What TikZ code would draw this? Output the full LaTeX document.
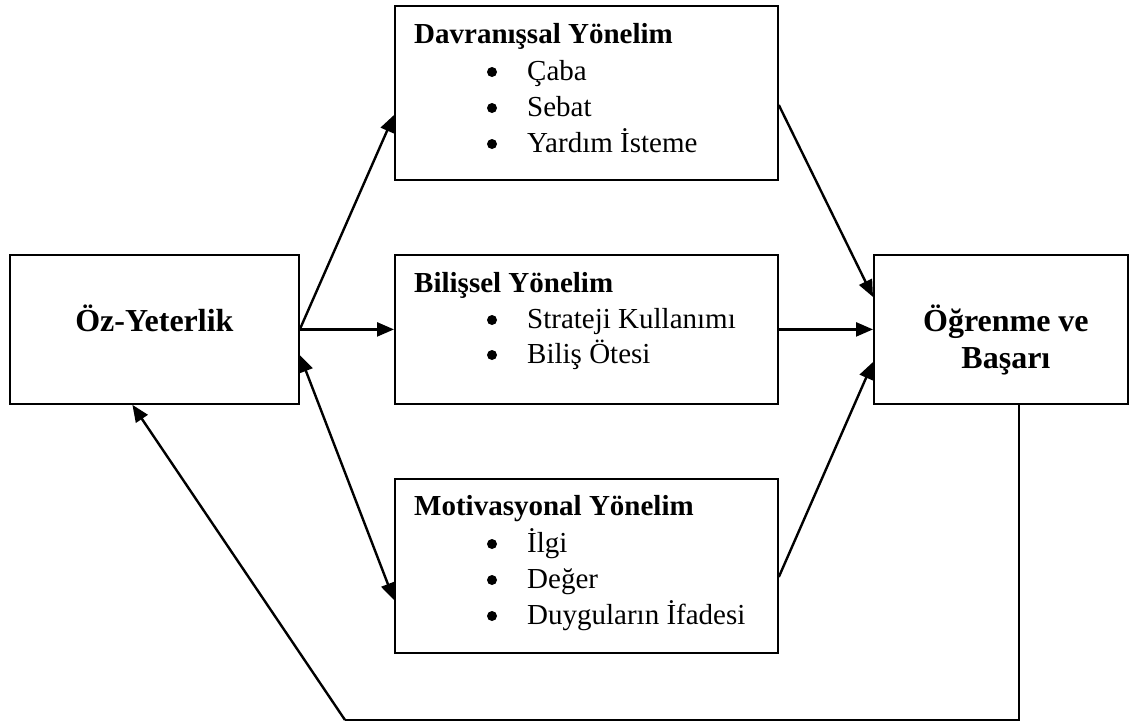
\documentclass[tikz,border=0pt]{standalone}
\usepackage{fontspec}
\setmainfont{Liberation Serif}
\usetikzlibrary{arrows.meta,calc}
\begin{document}
\begin{tikzpicture}[x=1pt,y=-1pt,
  box/.style={draw, line width=1.8pt, rectangle, inner sep=0pt, anchor=north west},
  conn/.style={line width=2.4pt, -{Triangle[length=17pt,width=14pt]}},
  dconn/.style={line width=2.4pt, {Triangle[length=17pt,width=14pt]}-{Triangle[length=17pt,width=14pt]}},
  fline/.style={line width=2.4pt, line join=miter},
  titletext/.style={font=\fontsize{29}{34}\selectfont\bfseries, anchor=base west, inner sep=0pt},
  itemtext/.style={font=\fontsize{29}{34}\selectfont, anchor=base west, inner sep=0pt},
  bigtext/.style={font=\fontsize{32}{38}\selectfont\bfseries, anchor=base, inner sep=0pt},
  bul/.style={circle, fill=black, inner sep=0pt, minimum size=10pt}
]
\useasboundingbox (0,0) rectangle (1134,726);

% boxes
\node[box, minimum width=289pt, minimum height=149pt] (oz) at (9,254) {};
\node[box, minimum width=383pt, minimum height=174pt] (dav) at (394,5) {};
\node[box, minimum width=383pt, minimum height=149pt] (bil) at (394,254) {};
\node[box, minimum width=383pt, minimum height=174pt] (mot) at (394,478) {};
\node[box, minimum width=254pt, minimum height=149pt] (og) at (873,254) {};

% box texts
\node[bigtext] (ozT) at ($(oz.north)+(0,77)$) {Öz-Yeterlik};
\node[bigtext] (ogT1) at ($(og.north)+(5,77)$) {Öğrenme ve};
\node[bigtext] (ogT2) at ($(og.north)+(5,114)$) {Başarı};

\node[titletext] (davT) at ($(dav.north west)+(20,38)$) {Davranışsal Yönelim};
\node[bul] (davB1) at ($(dav.north west)+(98,67)$) {};
\node[itemtext] (davI1) at ($(dav.north west)+(133,75)$) {Çaba};
\node[bul] (davB2) at ($(dav.north west)+(98,103)$) {};
\node[itemtext] (davI2) at ($(dav.north west)+(133,111)$) {Sebat};
\node[bul] (davB3) at ($(dav.north west)+(98,139)$) {};
\node[itemtext] (davI3) at ($(dav.north west)+(133,147)$) {Yardım İsteme};

\node[titletext] (bilT) at ($(bil.north west)+(20,38)$) {Bilişsel Yönelim};
\node[bul] (bilB1) at ($(bil.north west)+(98,66)$) {};
\node[itemtext] (bilI1) at ($(bil.north west)+(133,74)$) {Strateji Kullanımı};
\node[bul] (bilB2) at ($(bil.north west)+(98,101)$) {};
\node[itemtext] (bilI2) at ($(bil.north west)+(133,109)$) {Biliş Ötesi};

\node[titletext] (motT) at ($(mot.north west)+(20,37)$) {Motivasyonal Yönelim};
\node[bul] (motB1) at ($(mot.north west)+(98,66)$) {};
\node[itemtext] (motI1) at ($(mot.north west)+(133,74)$) {İlgi};
\node[bul] (motB2) at ($(mot.north west)+(98,102)$) {};
\node[itemtext] (motI2) at ($(mot.north west)+(133,110)$) {Değer};
\node[bul] (motB3) at ($(mot.north west)+(98,138)$) {};
\node[itemtext] (motI3) at ($(mot.north west)+(133,146)$) {Duyguların İfadesi};

% connectors
\draw[conn] (oz.east) -- ($(dav.north west)+(0,110)$);
\draw[conn] (oz.east) -- (bil.west);
\draw[dconn] ($(oz.north east)+(0,101)$) -- ($(mot.north west)+(0,122)$);
\draw[conn] ($(dav.north east)+(0,100)$) -- ($(og.north west)+(0,43)$);
\draw[conn] (bil.east) -- (og.west);
\draw[conn] ($(mot.north east)+(0,99)$) -- ($(og.north west)+(0,108)$);

\coordinate (fbA) at ($(og.south)+(18,0)$);
\coordinate (fbB) at (fbA |- 0,720);
\coordinate (fbC) at (345,720);
\draw[fline] (fbA) -- (fbB) -- (fbC);
\draw[conn] (fbC) -- ($(oz.south)+(-22,0)$);
\end{tikzpicture}
\end{document}
